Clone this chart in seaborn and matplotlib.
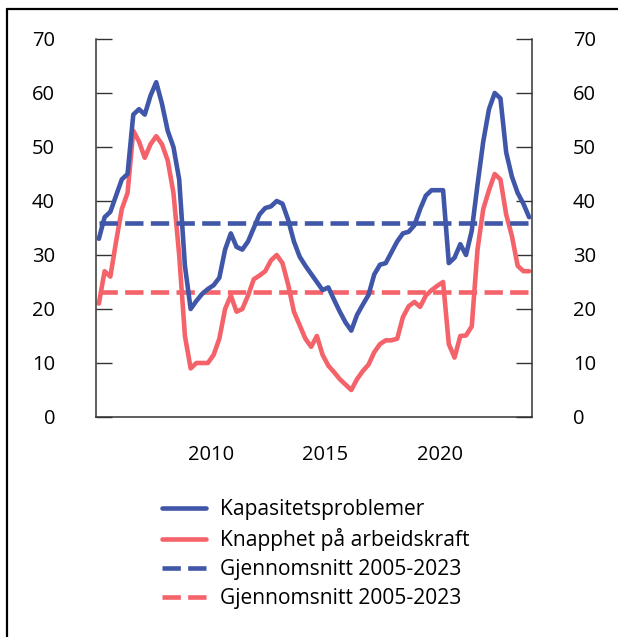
import pandas as pd
import seaborn as sns
import matplotlib.pyplot as plt
from matplotlib.lines import Line2D

# kvartalsdata 2005K1 - 2023K4
kvartaler = pd.period_range('2005Q1', '2023Q4', freq='Q')

kapasitet = [33, 37, 38, 41, 44, 45, 56, 57, 56, 59.5, 62, 58, 53, 50, 44, 28,
             20, 21.5, 22.8, 23.7, 24.4, 25.8, 31, 34, 31.5, 31, 32.5, 35, 37.5, 38.7, 39, 40,
             39.5, 36.5, 32.5, 29.7, 28, 26.5, 25, 23.5, 24, 21.7, 19.5, 17.5, 16, 18.9, 20.8, 22.6,
             26.4, 28.2, 28.5, 30.5, 32.5, 34, 34.3, 35.5, 38.5, 41, 42, 42, 42, 28.5, 29.5, 32,
             30, 34.5, 43, 51, 57, 60, 59, 49, 44.5, 41.5, 39.5, 37]

knapphet = [21, 27, 26, 32.5, 38.5, 41.5, 53, 51, 48, 50.5, 52, 50.5, 47.5, 41.5, 30, 15,
            9, 10, 10, 10, 11.5, 14.5, 20, 22.5, 19.5, 20, 22.5, 25.5, 26.2, 27, 29, 30,
            28.5, 24.5, 19.5, 17, 14.5, 13, 15, 11.5, 9.5, 8.3, 7, 6, 5, 7, 8.5, 9.7,
            12, 13.5, 14.2, 14.2, 14.5, 18.5, 20.5, 21.3, 20.4, 22.5, 23.5, 24.3, 25, 13.5, 11, 15,
            15.1, 16.8, 31, 38.5, 42, 45, 44, 37.5, 33.5, 28, 27, 27]

snitt_kapasitet = 36.0
snitt_knapphet = 23.2

etiketter = ['Kapasitetsproblemer', 'Knapphet på arbeidskraft',
             'Gjennomsnitt 2005-2023', 'Gjennomsnitt 2005-2023']
aarstall = [2010, 2015, 2020]
yticks = [0, 10, 20, 30, 40, 50, 60, 70]

blaa = '#4056a8'
roed = '#f4626a'
tekst = '#000000'

df = pd.DataFrame({'t': kvartaler.year + (kvartaler.quarter - 0.5) / 4,
                   'kapasitet': kapasitet, 'knapphet': knapphet})
df['snitt_kap'] = snitt_kapasitet
df['snitt_knapp'] = snitt_knapphet

sns.set_theme(style='white')
plt.rcParams['font.family'] = ['Open Sans', 'DejaVu Sans']
plt.rcParams['text.color'] = tekst

fig = plt.figure(figsize=(6.18, 6.37), dpi=100)
ax = fig.add_axes([96 / 618, 1 - 417 / 637, 436 / 618, 378 / 637])

lw = 3.3
stiplet = (0, (4, 1.6))
sns.lineplot(data=df, x='t', y='kapasitet', color=blaa, lw=lw, ax=ax, label=etiketter[0])
sns.lineplot(data=df, x='t', y='knapphet', color=roed, lw=lw, ax=ax, label=etiketter[1])
sns.lineplot(data=df, x='t', y='snitt_kap', color=blaa, lw=lw, ls=stiplet, ax=ax, label=etiketter[2])
sns.lineplot(data=df, x='t', y='snitt_knapp', color=roed, lw=lw, ls=stiplet, ax=ax, label=etiketter[3])
# blå linje øverst
ax.lines[0].set_zorder(3)

ax.set_xlim(2005, 2024)
ax.set_ylim(0, 70)
ax.set_xticks(aarstall)
ax.set_xticklabels([str(a) for a in aarstall])
ax.set_yticks(yticks)
ax.set_xlabel('')
ax.set_ylabel('')

ax.tick_params(axis='x', length=0, pad=20, labelsize=14.5, colors=tekst)
ax.tick_params(axis='y', direction='in', length=11.5, width=1, left=True, right=True,
               labelleft=True, labelright=True, pad=29.5, labelsize=14.5, colors=tekst)
ax.tick_params(axis='y', color='#333333')
ax.spines['top'].set_visible(False)
for s in ['left', 'right', 'bottom']:
    ax.spines[s].set_color('#333333')
    ax.spines[s].set_linewidth(1.1)

handles, labels = ax.get_legend_handles_labels()
ax.get_legend().remove()
fig.legend(handles, labels, loc='upper left', bbox_to_anchor=(162 / 618, 1 - 499.5 / 637),
           frameon=False, fontsize=15.1, handlelength=2.1, handletextpad=0.66,
           labelspacing=0.38, borderpad=0, borderaxespad=0)

# ramme rundt figuren (venstre og topp)
fig.add_artist(Line2D([7 / 618, 7 / 618], [0, 1 - 9 / 637], transform=fig.transFigure,
                      color='black', lw=1.6))
fig.add_artist(Line2D([7 / 618, 1], [1 - 9 / 637, 1 - 9 / 637], transform=fig.transFigure,
                      color='black', lw=1.6))

fig.savefig('out.png', dpi=100)
